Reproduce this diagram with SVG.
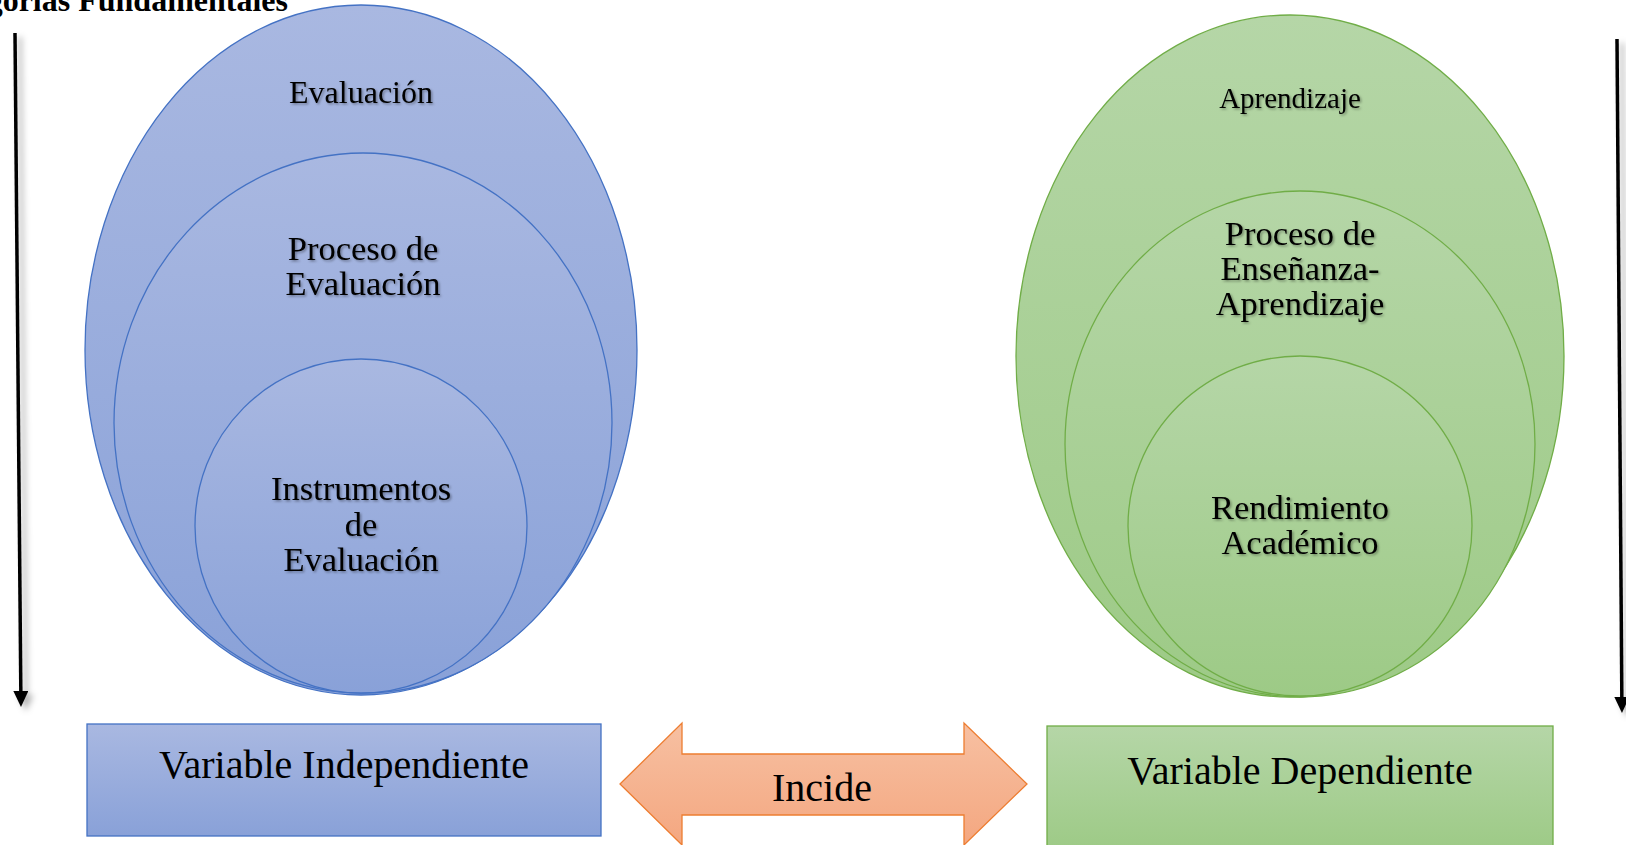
<svg xmlns="http://www.w3.org/2000/svg" width="1626" height="845" viewBox="0 0 1626 845">
  <defs>
    <linearGradient id="gBlue" x1="0" y1="0" x2="0" y2="1">
      <stop offset="0" stop-color="#a9b8e1"/>
      <stop offset="1" stop-color="#89a1d8"/>
    </linearGradient>
    <linearGradient id="gGreen" x1="0" y1="0" x2="0" y2="1">
      <stop offset="0" stop-color="#b5d6a7"/>
      <stop offset="1" stop-color="#9dca86"/>
    </linearGradient>
    <linearGradient id="gOrange" x1="0" y1="0" x2="0" y2="1">
      <stop offset="0" stop-color="#f7c0a2"/>
      <stop offset="1" stop-color="#f4a780"/>
    </linearGradient>
    <filter id="tshadow" x="-10%" y="-30%" width="120%" height="160%">
      <feDropShadow dx="1.5" dy="1.5" stdDeviation="1" flood-color="#000" flood-opacity="0.35"/>
    </filter>
    <filter id="lshadow" filterUnits="userSpaceOnUse" x="-20" y="0" width="1666" height="845">
      <feDropShadow dx="5" dy="4" stdDeviation="3" flood-color="#000" flood-opacity="0.3"/>
    </filter>
    <marker id="arrowhead" viewBox="0 0 16 15" refX="8" refY="7.5" markerWidth="16" markerHeight="15" orient="auto" markerUnits="userSpaceOnUse">
      <path d="M0,0 L16,7.5 L0,15 Z" fill="#000"/>
    </marker>
  </defs>
  <style>
    .blue { fill: url(#gBlue); stroke: #4472c4; stroke-width: 1.3; }
    .green { fill: url(#gGreen); stroke: #70ad47; stroke-width: 1.3; }
    .lbl { font-family: "Liberation Serif", "Times New Roman", serif; fill: #000; text-anchor: middle; filter: url(#tshadow); }
    .box { font-family: "Liberation Serif", "Times New Roman", serif; fill: #000; text-anchor: middle; font-size: 40px; }
    .title { font-family: "Liberation Serif", "Times New Roman", serif; font-weight: bold; font-size: 32px; fill: #000; text-anchor: end; }
    .axis { stroke: #000; stroke-width: 3.5; fill: none; marker-end: url(#arrowhead); filter: url(#lshadow); }
  </style>

  <text class="title" x="288" y="11">gorías Fundamentales</text>

  <g id="connectors">
    <line class="axis" x1="15" y1="33" x2="20.9" y2="699"/>
    <line class="axis" x1="1617" y1="39" x2="1621.9" y2="705"/>
  </g>

  <g id="evaluacion">
    <ellipse class="blue" cx="361" cy="350" rx="276" ry="345"/>
    <text class="lbl" x="361" y="103" font-size="32">Evaluación</text>
  </g>
  <g id="proceso-evaluacion">
    <ellipse class="blue" cx="363" cy="423" rx="249" ry="270"/>
    <text class="lbl" x="363" y="260" font-size="34.5">Proceso de</text>
    <text class="lbl" x="363" y="295" font-size="34.5">Evaluación</text>
  </g>
  <g id="instrumentos">
    <ellipse class="blue" cx="361" cy="526" rx="166" ry="167"/>
    <text class="lbl" x="361" y="500" font-size="34.5">Instrumentos</text>
    <text class="lbl" x="361" y="536" font-size="34.5">de</text>
    <text class="lbl" x="361" y="571" font-size="34.5">Evaluación</text>
  </g>

  <g id="aprendizaje">
    <ellipse class="green" cx="1290" cy="356" rx="274" ry="341"/>
    <text class="lbl" x="1290" y="108" font-size="29">Aprendizaje</text>
  </g>
  <g id="proceso-ensenanza">
    <ellipse class="green" cx="1300" cy="444" rx="235" ry="253"/>
    <text class="lbl" x="1300" y="245" font-size="34.5">Proceso de</text>
    <text class="lbl" x="1300" y="280" font-size="34.5">Enseñanza-</text>
    <text class="lbl" x="1300" y="315" font-size="34.5">Aprendizaje</text>
  </g>
  <g id="rendimiento">
    <ellipse class="green" cx="1300" cy="526" rx="172" ry="170"/>
    <text class="lbl" x="1300" y="519" font-size="34.5">Rendimiento</text>
    <text class="lbl" x="1300" y="554" font-size="34.5">Académico</text>
  </g>

  <g id="variable-independiente">
    <rect x="87" y="724" width="514" height="112" fill="url(#gBlue)" stroke="#4472c4" stroke-width="1.3"/>
    <text class="box" x="344" y="778">Variable Independiente</text>
  </g>

  <g id="incide">
    <path d="M620,784 L682,723 L682,754 L964,754 L964,723 L1027,784 L964,845 L964,815 L682,815 L682,845 Z" fill="url(#gOrange)" stroke="#ed7d31" stroke-width="1.3"/>
    <text class="box" x="822" y="801">Incide</text>
  </g>

  <g id="variable-dependiente">
    <rect x="1047" y="726" width="506" height="125" fill="url(#gGreen)" stroke="#70ad47" stroke-width="1.3"/>
    <text class="box" x="1300" y="784">Variable Dependiente</text>
  </g>
</svg>
